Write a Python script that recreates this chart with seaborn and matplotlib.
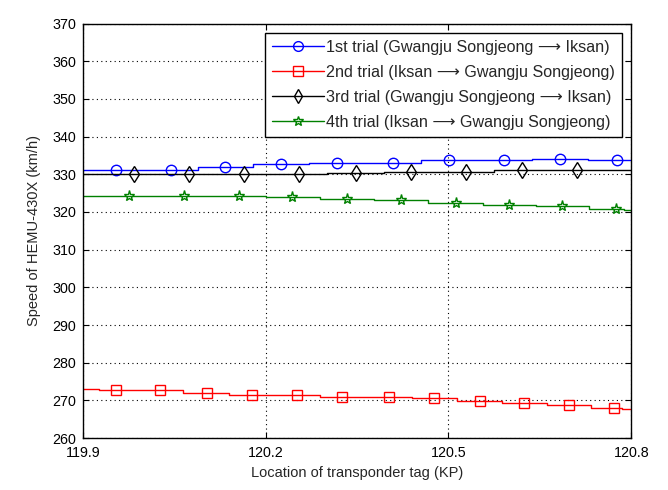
import numpy as np
import pandas as pd
import matplotlib
matplotlib.use("Agg")
import matplotlib.pyplot as plt
import seaborn as sns
from matplotlib.lines import Line2D

# ---- data ----
blue_x = [119.954, 120.044, 120.134, 120.225, 120.317, 120.409, 120.501, 120.591, 120.683, 120.776]
blue_y = [331.2, 331.2, 332.0, 332.6, 333.1, 333.1, 333.7, 333.7, 334.1, 333.7]
black_x = [119.984, 120.074, 120.164, 120.255, 120.348, 120.439, 120.529, 120.621, 120.711]
black_y = [330.0, 330.0, 330.0, 330.2, 330.4, 330.6, 330.7, 331.0, 331.1]
green_x = [119.976, 120.066, 120.156, 120.244, 120.333, 120.422, 120.512, 120.600, 120.687, 120.775]
green_y = [324.1, 324.1, 324.1, 323.9, 323.5, 323.1, 322.3, 321.9, 321.5, 320.7]
red_x = [119.954, 120.026, 120.103, 120.177, 120.252, 120.326, 120.403, 120.476, 120.551, 120.624, 120.698, 120.771]
red_y = [272.7, 272.7, 272.0, 271.4, 271.3, 271.0, 270.8, 270.5, 269.8, 269.4, 268.8, 268.1]

# line end values at the axis edges
x_start, x_end = 119.9, 120.8
blue_ends = [331.2, 333.7]
black_ends = [330.0, 331.2]
green_ends = [324.1, 320.5]
red_ends = [273.1, 267.8]

labels = ["1st trial (Gwangju Songjeong \u27f6 Iksan)",
          "2nd trial (Iksan \u27f6 Gwangju Songjeong)",
          "3rd trial (Gwangju Songjeong \u27f6 Iksan)",
          "4th trial (Iksan \u27f6 Gwangju Songjeong)"]
x_ticks = [119.9, 120.2, 120.5, 120.8]
y_ticks = list(range(260, 371, 10))

sns.set_style("white")
plt.rcParams['font.family'] = ['Liberation Sans', 'DejaVu Sans']

fig = plt.figure(figsize=(6.68, 4.90), dpi=100)
ax = fig.add_axes([0.124, 0.106, 0.821, 0.846])

series = [
    (blue_x, blue_y, blue_ends, (0, 0, 1), 'o', 7.5),
    (red_x, red_y, red_ends, (1, 0, 0), 's', 7.5),
    (black_x, black_y, black_ends, 'black', 'd', 8),
    (green_x, green_y, green_ends, (0, 0.5, 0), '*', 8),
]

handles = []
for (xs, ys, ends, col, mk, ms), lab in zip(series, labels):
    lx = [x_start] + list(xs) + [x_end]
    ly = [ends[0]] + list(ys) + [ends[1]]
    df = pd.DataFrame({"x": lx, "y": ly})
    sns.lineplot(data=df, x="x", y="y", ax=ax, color=col, linewidth=1,
                 drawstyle='steps-mid', sort=False, estimator=None)
    dm = pd.DataFrame({"x": xs, "y": ys})
    ax.plot(dm["x"], dm["y"], linestyle='none', marker=mk, color=col,
            markeredgecolor=col, markeredgewidth=1, markerfacecolor='none',
            markersize=ms)
    handles.append(Line2D([0], [0], color=col, linewidth=1, marker=mk,
                          markeredgecolor=col, markerfacecolor='none',
                          markersize=7 if mk != '*' else 7.5))

ax.set_xlim(119.9, 120.8)
ax.set_ylim(260, 370)
ax.set_xticks(x_ticks)
ax.set_xticklabels([f"{t:.1f}" for t in x_ticks])
ax.set_yticks(y_ticks)
ax.grid(True, linestyle=(0, (1, 3)), color='black', linewidth=0.8)
ax.tick_params(direction='in', length=4, colors='black', labelsize=10.3,
               top=True, right=True, bottom=True, left=True)
ax.tick_params(axis='x', pad=6)
ax.tick_params(axis='y', pad=5)
for s in ax.spines.values():
    s.set_visible(True)
    s.set_color('black')
    s.set_linewidth(1)
ax.set_xlabel("Location of transponder tag (KP)", fontsize=10.5, labelpad=4)
ax.set_ylabel("Speed of HEMU-430X (km/h)", fontsize=10.5, labelpad=8)

leg = ax.legend(handles, labels, loc='upper right', fontsize=11.6,
                frameon=True, fancybox=False, edgecolor='black',
                handlelength=3.2, handletextpad=0.15, borderpad=0.45,
                labelspacing=0.62, borderaxespad=0.0,
                bbox_to_anchor=(0.984, 0.978))
leg.get_frame().set_linewidth(1)
leg.get_frame().set_alpha(1)

fig.savefig("out.png", dpi=100)
